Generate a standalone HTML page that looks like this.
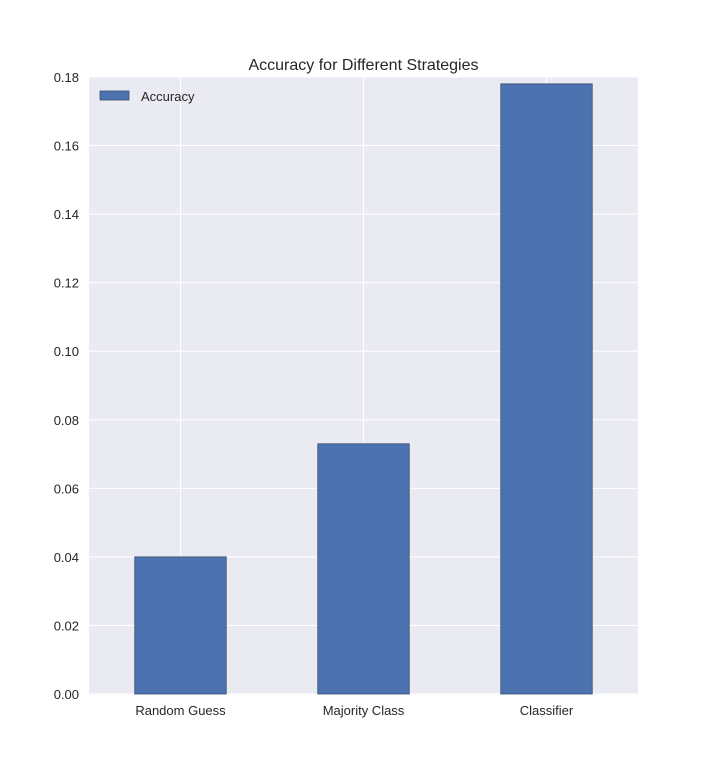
<!DOCTYPE html>
<html><head><meta charset="utf-8"><style>body{margin:0;background:#fff}svg{display:block;font-family:"Liberation Sans",sans-serif}</style></head>
<body>
<svg width="710" height="771">
<g id="g"></g>
</svg>
<script>
const categories=["Random Guess","Majority Class","Classifier"];
const values=[0.04,0.073,0.178];
const yTicks=[0,0.02,0.04,0.06,0.08,0.10,0.12,0.14,0.16,0.18];
const yTickLabels=["0.00","0.02","0.04","0.06","0.08","0.10","0.12","0.14","0.16","0.18"];
const L=89,R=638,T=77,B=694,yMax=0.18;
const y=v=>B-(v/yMax)*(B-T);
const step=(R-L)/categories.length;
const x=i=>L+step*(i+0.5);
const bw=step*0.5;
const ns="http://www.w3.org/2000/svg";
const g=document.getElementById('g');
function mk(t,a,txt){const e=document.createElementNS(ns,t);for(const k in a)e.setAttribute(k,a[k]);if(txt!=null)e.textContent=txt;g.appendChild(e);return e;}
let e=mk('rect',{x:L,y:T,width:R-L,height:B-T,fill:'#eaeaf2'});


yTicks.forEach((v,i)=>{
 let l=mk('line',{x1:L,x2:R,y1:y(v),y2:y(v),stroke:'#fff','stroke-width':1});
 
 
 let t=mk('text',{x:L-10,y:y(v)+5,'text-anchor':'end','font-size':13,fill:'#262626'},yTickLabels[i]);
 
 
});
categories.forEach((c,i)=>{
 let l=mk('line',{x1:x(i),x2:x(i),y1:T,y2:B,stroke:'#fff','stroke-width':1});
 
 
});
categories.forEach((c,i)=>{
 let r=mk('rect',{x:x(i)-bw/2,y:y(values[i]),width:bw,height:B-y(values[i]),fill:'#4c72b0',stroke:'#3a4f70','stroke-width':0.8});
 
 
 let t=mk('text',{x:x(i),y:B+21,'text-anchor':'middle','font-size':13,fill:'#262626'},c);
 
 
});
let lp=mk('rect',{x:100,y:91,width:29,height:9,fill:'#4c72b0',stroke:'#3a4f70','stroke-width':0.8});


let lt=mk('text',{x:141,y:101,'font-size':13,fill:'#262626'},'Accuracy');


let ti=mk('text',{x:(L+R)/2,y:70,'text-anchor':'middle','font-size':16,fill:'#262626'},'Accuracy for Different Strategies');


</script>
</body></html>
